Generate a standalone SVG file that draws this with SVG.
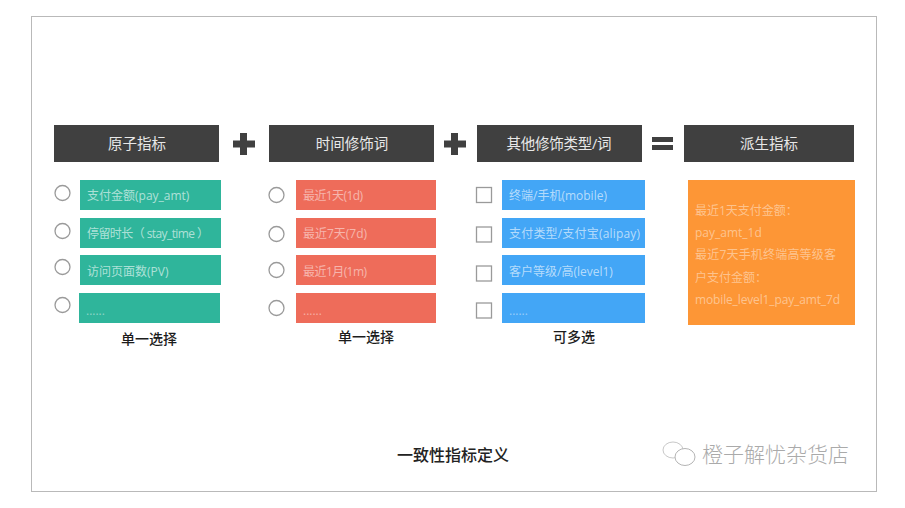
<svg xmlns="http://www.w3.org/2000/svg" width="905" height="508" viewBox="0 0 905 508">
<style>
text{font-family:"Liberation Sans","Noto Sans CJK SC",sans-serif}
.h{fill:#404040}
.ht{fill:#e8e8e8;font-size:14.5px;text-anchor:middle;font-family:"Open Sans","Noto Sans CJK SC",sans-serif}
.t{fill:#2fb59b}.r{fill:#ee6c5a}.b{fill:#43a6f6}.o{fill:#fd9636}
.l{fill:#fff;fill-opacity:.62;font-size:12px;font-family:"Open Sans","Noto Sans CJK SC",sans-serif}
.f{fill-opacity:.45}
.m{fill-opacity:.5}
.c{fill:#fff;stroke:#9a9a9a;stroke-width:1.3}
.s{fill:#1c1c1c;font-size:14px;font-weight:500;text-anchor:middle;font-family:"Noto Sans CJK SC",sans-serif}
.op{fill:#404040}
</style>
<rect x="0" y="0" width="905" height="508" fill="#fff"/>
<rect id="frame" x="31.500" y="16.500" width="845" height="475" fill="#fff" stroke="#b9b9b9"/>
<g id="col1">
<g id="h1"><rect class="h" x="54" y="125" width="165" height="37"/><text class="ht" x="137" y="149">原子指标</text></g>
<g id="a1"><circle class="c" cx="62.500" cy="193" r="7.500"/><rect class="t" x="80" y="180" width="141" height="30"/><text class="l" x="87" y="200">支付金额(pay_amt)</text></g>
<g id="a2"><circle class="c" cx="62.500" cy="231" r="7.500"/><rect class="t" x="80" y="218" width="141" height="30"/><text class="l" x="87" y="238" textLength="122" lengthAdjust="spacing">停留时长（ stay_time ）</text></g>
<g id="a3"><circle class="c" cx="62.500" cy="267" r="7.500"/><rect class="t" x="80" y="255" width="141" height="30"/><text class="l" x="87" y="276">访问页面数(PV)</text></g>
<g id="a4"><circle class="c" cx="62.500" cy="305" r="7.500"/><rect class="t" x="79" y="293" width="141" height="30"/><text class="l f" x="86" y="315">......</text></g>
<text class="s" x="149" y="344">单一选择</text>
</g>
<g id="plus1"><rect class="op" x="240" y="133" width="7" height="22"/><rect class="op" x="233" y="140.500" width="22" height="7"/></g>
<g id="col2">
<g id="h2"><rect class="h" x="269" y="125" width="165" height="37"/><text class="ht" x="352" y="149">时间修饰词</text></g>
<g id="b1"><circle class="c" cx="276.500" cy="195" r="7.500"/><rect class="r" x="296" y="180" width="140" height="30"/><text class="l m" x="303" y="200" textLength="60" lengthAdjust="spacing">最近1天(1d)</text></g>
<g id="b2"><circle class="c" cx="276.500" cy="234" r="7.500"/><rect class="r" x="296" y="218" width="140" height="30"/><text class="l m" x="303" y="238" textLength="64" lengthAdjust="spacing">最近7天(7d)</text></g>
<g id="b3"><circle class="c" cx="276.500" cy="270" r="7.500"/><rect class="r" x="296" y="255" width="140" height="30"/><text class="l m" x="303" y="276" textLength="64" lengthAdjust="spacing">最近1月(1m)</text></g>
<g id="b4"><circle class="c" cx="276.500" cy="308" r="7.500"/><rect class="r" x="296" y="293" width="140" height="30"/><text class="l f" x="303" y="315">......</text></g>
<text class="s" x="366" y="342">单一选择</text>
</g>
<g id="plus2"><rect class="op" x="451" y="133" width="7" height="22"/><rect class="op" x="444" y="140.500" width="22" height="7"/></g>
<g id="col3">
<g id="h3"><rect class="h" x="477" y="125" width="165" height="37"/><text class="ht" x="559" y="149" textLength="105" lengthAdjust="spacing">其他修饰类型/词</text></g>
<g id="c1"><rect class="c" x="476.500" y="187.500" width="15" height="15"/><rect class="b" x="502" y="180" width="143" height="30"/><text class="l" x="509" y="200">终端/手机(mobile)</text></g>
<g id="c2"><rect class="c" x="476.500" y="227" width="15" height="15"/><rect class="b" x="502" y="218" width="143" height="30"/><text class="l" x="509" y="238" textLength="131" lengthAdjust="spacing">支付类型/支付宝(alipay)</text></g>
<g id="c3"><rect class="c" x="476.500" y="266" width="15" height="15"/><rect class="b" x="502" y="255" width="143" height="30"/><text class="l" x="509" y="276">客户等级/高(level1)</text></g>
<g id="c4"><rect class="c" x="476.500" y="303" width="15" height="15"/><rect class="b" x="502" y="293" width="143" height="30"/><text class="l f" x="509" y="315">......</text></g>
<text class="s" x="574" y="342">可多选</text>
</g>
<g id="equals"><rect class="op" x="652" y="137" width="21" height="5"/><rect class="op" x="652" y="145" width="21" height="5"/></g>
<g id="col4">
<g id="h4"><rect class="h" x="684" y="125" width="170" height="37"/><text class="ht" x="769" y="149">派生指标</text></g>
<g id="d1"><rect class="o" x="688" y="180" width="167" height="145"/>
<text class="l f" x="695" y="215">最近1天支付金额：</text>
<text class="l f" x="695" y="237">pay_amt_1d</text>
<text class="l f" x="695" y="259" textLength="141" lengthAdjust="spacing">最近7天手机终端高等级客</text>
<text class="l f" x="695" y="282">户支付金额：</text>
<text class="l f" x="695" y="304" textLength="145" lengthAdjust="spacing">mobile_level1_pay_amt_7d</text>
</g>
</g>
<text id="caption" x="453" y="461" font-size="16" fill="#222" text-anchor="middle" style='font-family:"Noto Sans CJK SC",sans-serif;font-weight:500'>一致性指标定义</text>
<g id="watermark">
<ellipse cx="673" cy="450" rx="10" ry="8" fill="#fff" stroke="#c8c8c8"/>
<ellipse cx="685" cy="457" rx="10" ry="8.500" fill="#fff" stroke="#b5b5b5"/>
<text x="702" y="462" font-size="21" fill="#aaa" style='font-family:"Noto Sans CJK SC",sans-serif;font-weight:300'>橙子解忧杂货店</text>
</g>
</svg>
